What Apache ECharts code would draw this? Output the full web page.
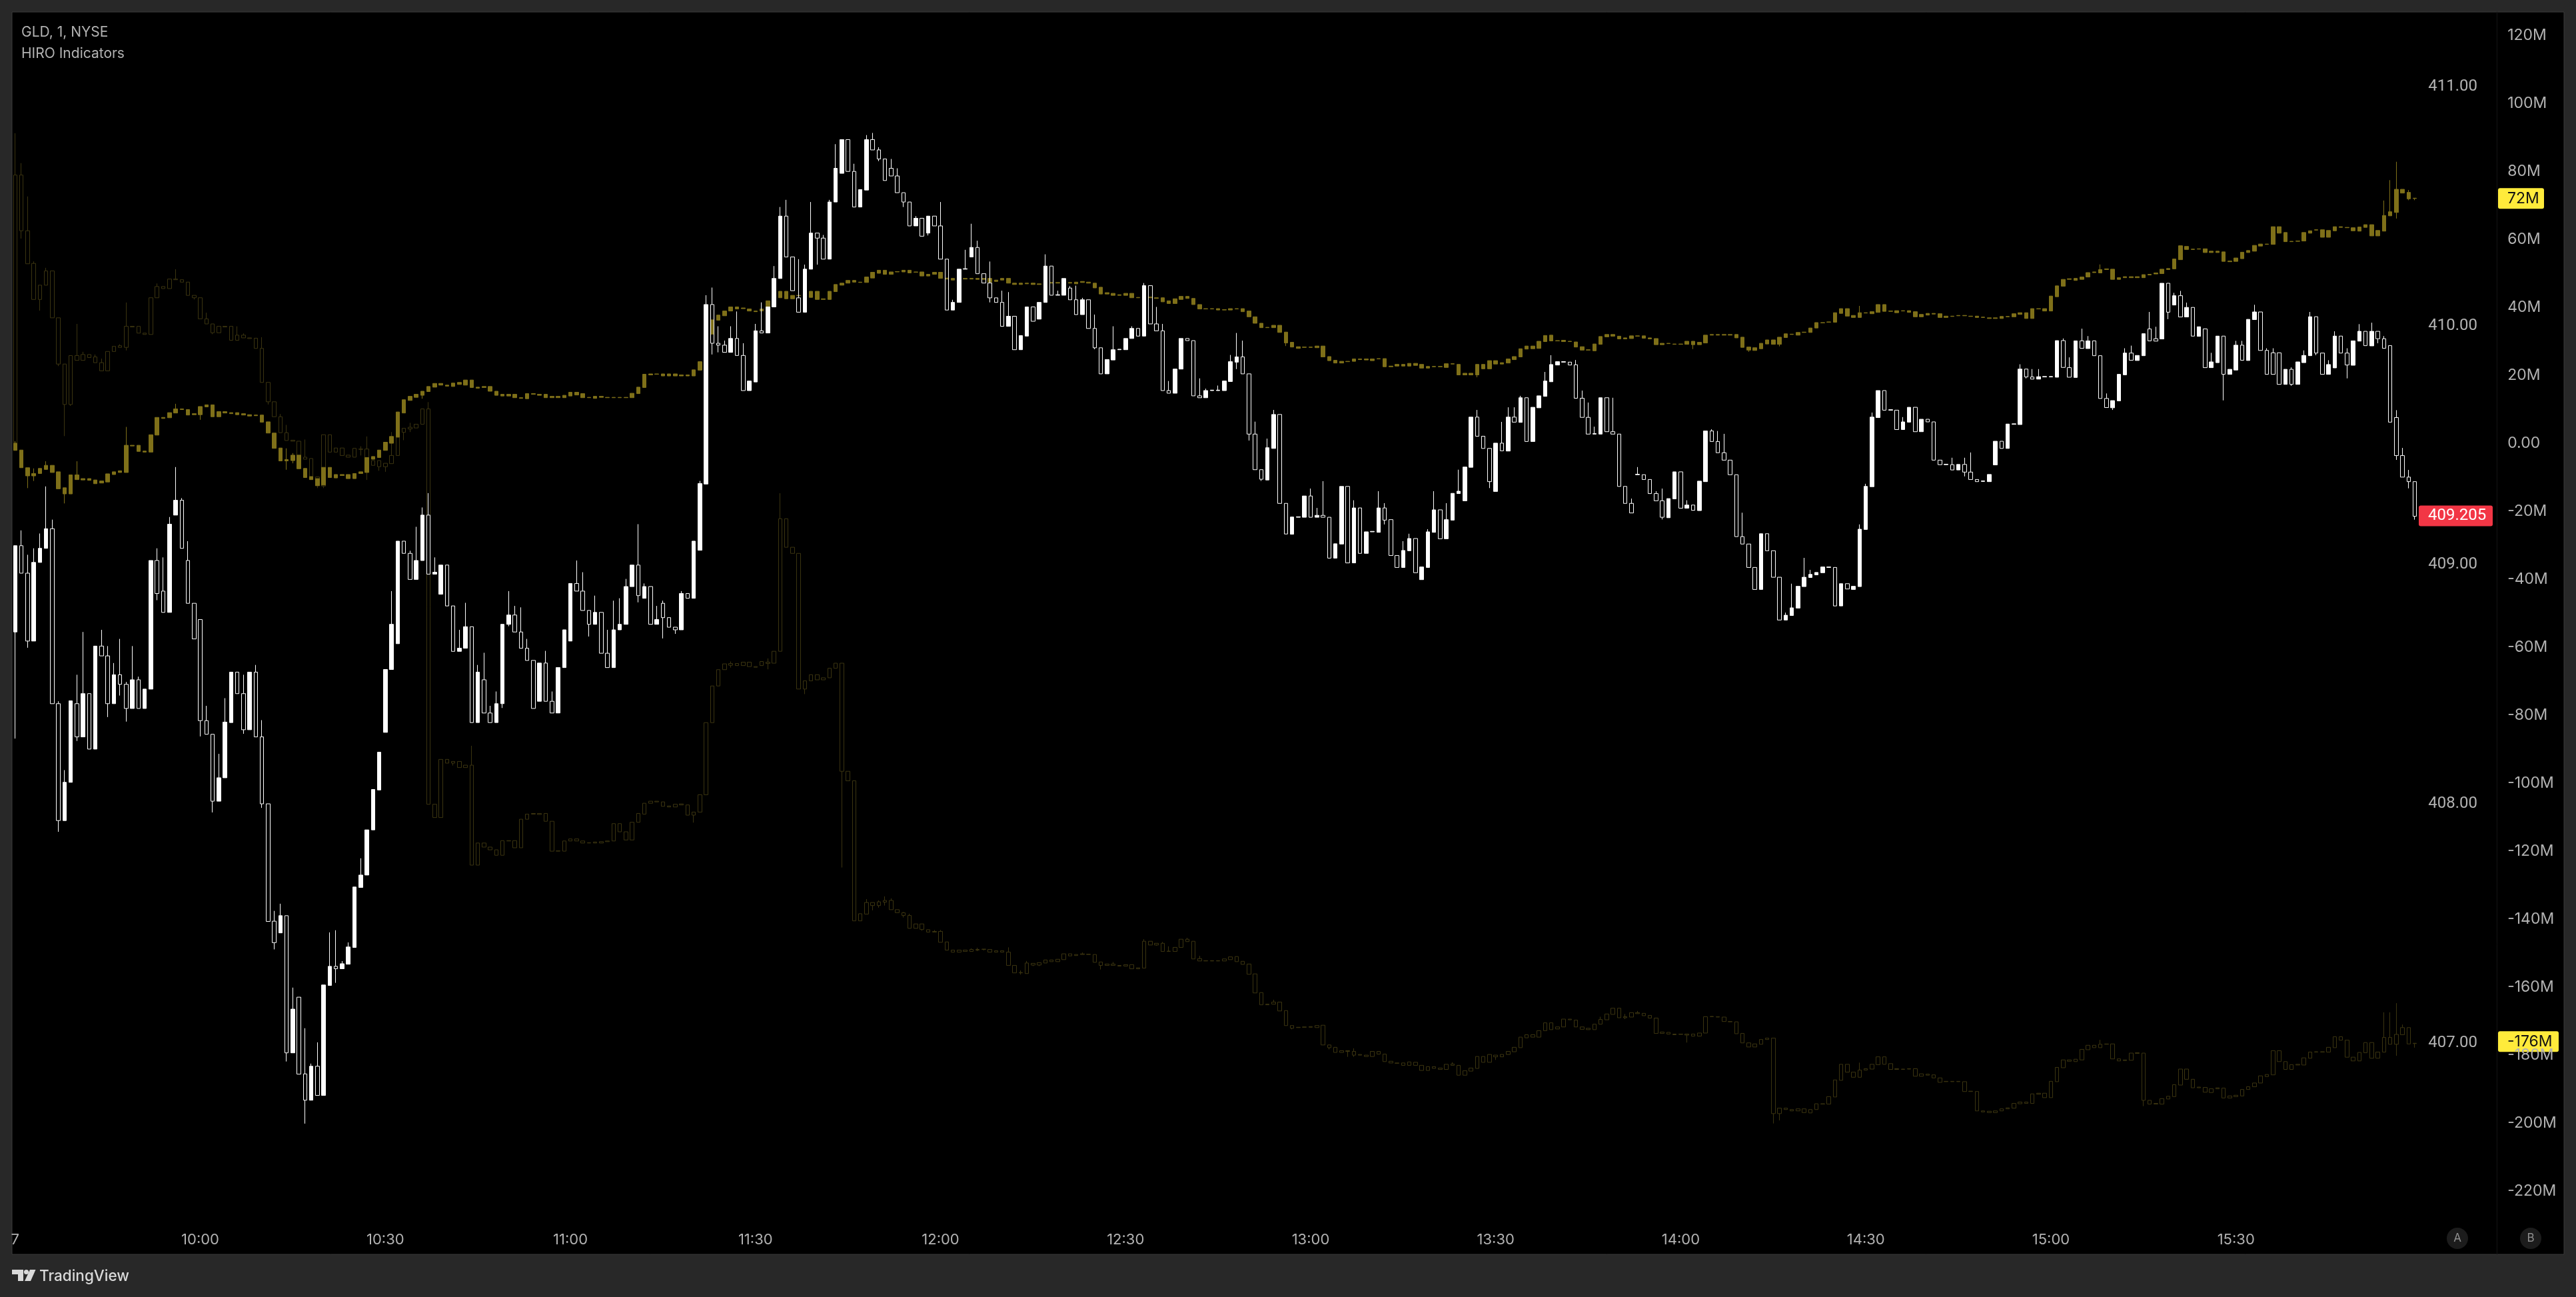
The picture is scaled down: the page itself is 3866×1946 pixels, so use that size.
<!DOCTYPE html>
<html>
<head>
<meta charset="utf-8">
<title>GLD HIRO</title>
<style>
  html, body { margin: 0; padding: 0; background: #282828; }
  #chart { width: 3866px; height: 1946px; }
</style>
<script src="https://cdn.jsdelivr.net/npm/echarts@6/dist/echarts.min.js"></script>
</head>
<body>
<div id="chart"></div>
<script>
// GLD one minute bars, 09:30 onward
const priceOpen = [
  408.719,409.080,408.965,408.681,409.010,409.069,409.151,408.419,407.930,408.090,
  408.419,408.280,408.461,408.229,408.660,408.619,408.419,408.540,408.500,408.399,
  408.519,408.399,408.480,409.018,408.890,408.801,409.208,409.270,409.018,408.839,
  408.771,408.348,408.291,408.011,408.109,408.340,408.551,408.461,408.310,408.551,
  408.280,408.000,407.509,407.460,407.532,406.958,407.191,406.870,406.760,406.902,
  406.780,407.240,407.320,407.310,407.329,407.399,407.650,407.702,407.891,408.058,
  408.299,408.562,408.670,409.099,409.048,408.939,409.018,409.208,408.961,408.877,
  408.999,408.828,408.638,408.651,408.741,408.340,408.519,408.380,408.340,408.419,
  408.751,408.790,408.719,408.651,408.600,408.429,408.589,408.429,408.380,408.570,
  408.681,408.922,408.890,408.809,408.751,408.801,408.630,408.570,408.728,408.751,
  408.909,408.999,408.860,408.909,408.751,408.839,408.779,408.739,408.728,408.880,
  408.860,409.061,409.338,410.089,409.927,409.919,409.889,409.947,409.876,409.729,
  409.765,409.979,409.970,410.079,410.198,410.459,410.288,410.117,410.057,410.237,
  410.388,410.367,410.279,410.518,410.638,410.779,410.646,410.497,410.568,410.779,
  410.736,410.698,410.659,410.627,410.557,410.518,410.418,410.450,410.388,410.459,
  410.418,410.279,410.066,410.098,410.237,410.288,410.328,410.218,410.179,410.117,
  410.098,409.998,410.040,409.900,409.957,410.079,410.028,410.098,410.250,410.128,
  410.128,410.158,410.109,410.047,410.109,409.989,409.908,409.799,409.857,409.900,
  409.900,409.947,409.989,409.957,410.168,410.008,409.979,409.729,409.718,409.819,
  409.947,409.938,409.707,409.699,409.729,409.729,409.729,409.767,409.848,409.870,
  409.799,409.547,409.398,409.355,409.487,409.629,409.257,409.128,409.199,409.199,
  409.288,409.199,409.207,409.199,409.028,409.087,409.328,409.008,409.238,409.048,
  409.138,409.136,409.238,409.189,409.039,408.989,409.059,409.110,408.938,408.989,
  409.136,409.230,409.109,409.187,409.298,409.268,409.408,409.618,409.538,409.487,
  409.307,409.509,409.476,409.618,409.596,409.699,409.516,409.657,409.705,409.766,
  409.836,409.848,409.848,409.837,409.697,409.617,409.547,409.547,409.699,409.557,
  409.547,409.328,409.257,409.377,409.377,409.357,409.298,409.268,409.197,409.276,
  409.389,409.237,409.250,409.227,409.348,409.560,409.516,409.469,409.438,409.377,
  409.118,409.087,408.989,408.897,409.130,409.059,408.948,408.769,408.788,408.819,
  408.909,408.947,408.958,408.967,408.989,408.989,408.828,408.921,408.897,408.909,
  409.148,409.327,409.616,409.729,409.647,409.647,409.566,409.597,409.659,409.557,
  409.609,409.598,409.438,409.419,409.419,409.397,409.420,409.388,409.357,409.349,
  409.348,409.418,409.517,409.487,409.588,409.587,409.819,409.786,409.777,409.786,
  409.786,409.785,409.938,409.825,409.784,409.937,409.905,409.937,409.875,409.696,
  409.657,409.686,409.795,409.886,409.855,409.875,409.987,409.946,409.945,410.178,
  410.087,410.126,410.037,410.077,409.956,409.987,409.825,409.846,409.957,409.797,
  409.815,409.919,409.855,410.026,410.058,409.897,409.887,409.887,409.755,409.818,
  409.755,409.846,409.875,410.038,409.886,409.797,409.824,409.957,409.886,409.835,
  409.936,409.977,409.916,409.977,409.946,409.917,409.616,409.457,409.367,409.348
]
const priceClose = [
  409.080,408.965,408.681,409.010,409.069,409.151,408.419,407.930,408.090,408.431,
  408.280,408.461,408.229,408.660,408.619,408.419,408.540,408.500,408.399,408.519,
  408.399,408.480,409.018,408.880,408.801,409.170,409.270,409.069,408.839,408.690,
  408.348,408.291,408.011,408.109,408.342,408.551,408.461,408.310,408.551,408.280,
  408.000,407.508,407.419,407.532,406.958,407.141,406.869,406.760,406.902,406.780,
  407.242,407.320,407.310,407.331,407.401,407.652,407.702,407.891,408.060,408.216,
  408.562,408.751,409.099,409.048,408.939,409.018,409.208,408.961,408.969,408.999,
  408.828,408.638,408.651,408.741,408.340,408.551,408.380,408.340,408.419,408.751,
  408.790,408.719,408.651,408.600,408.399,408.589,408.429,408.380,408.570,408.728,
  408.922,408.890,408.809,408.751,408.801,408.630,408.570,408.728,408.751,408.909,
  408.999,408.871,408.909,408.751,408.771,408.779,408.739,408.728,408.880,408.860,
  409.099,409.340,410.089,409.927,409.919,409.889,409.947,409.876,409.729,409.769,
  409.979,409.970,410.079,410.198,410.459,410.288,410.147,410.057,410.237,410.388,
  410.367,410.279,410.518,410.659,410.779,410.646,410.497,410.570,410.779,410.736,
  410.698,410.608,410.627,410.557,410.518,410.418,410.450,410.375,410.459,410.418,
  410.279,410.066,410.098,410.237,410.239,410.328,410.218,410.179,410.117,410.098,
  409.998,410.040,409.900,409.959,410.079,410.019,410.098,410.250,410.128,410.130,
  410.198,410.109,410.047,410.109,409.989,409.908,409.799,409.859,409.900,409.902,
  409.947,409.989,409.957,410.168,410.008,409.979,409.729,409.718,409.819,409.947,
  409.938,409.707,409.699,409.729,409.731,409.731,409.769,409.850,409.870,409.799,
  409.547,409.398,409.358,409.490,409.629,409.257,409.129,409.200,409.201,409.288,
  409.199,409.207,409.199,409.028,409.088,409.328,409.008,409.238,409.048,409.138,
  409.140,409.238,409.187,409.039,408.989,409.060,409.110,408.967,408.991,409.138,
  409.230,409.109,409.189,409.299,409.308,409.409,409.618,409.538,409.487,409.348,
  409.509,409.477,409.618,409.597,409.699,409.516,409.659,409.707,409.769,409.838,
  409.850,409.850,409.836,409.697,409.617,409.547,409.549,409.699,409.557,409.547,
  409.328,409.257,409.217,409.379,409.357,409.298,409.268,409.199,409.277,409.389,
  409.237,409.250,409.228,409.350,409.560,409.516,409.469,409.438,409.377,409.118,
  409.087,408.989,408.897,409.130,409.059,408.948,408.769,408.789,408.820,408.910,
  408.948,408.960,408.968,408.991,408.991,408.828,408.921,408.899,408.910,409.149,
  409.328,409.618,409.729,409.647,409.649,409.566,409.598,409.659,409.557,409.609,
  409.598,409.438,409.419,409.421,409.397,409.420,409.388,409.357,409.348,409.351,
  409.378,409.517,409.487,409.589,409.590,409.819,409.786,409.777,409.787,409.788,
  409.788,409.938,409.826,409.785,409.937,409.906,409.937,409.875,409.696,409.658,
  409.687,409.797,409.886,409.856,409.876,409.967,409.937,409.936,410.178,410.057,
  410.126,410.037,410.077,409.957,409.996,409.825,409.849,409.957,409.797,409.818,
  409.919,409.856,410.027,410.058,409.897,409.797,409.797,409.755,409.818,409.755,
  409.849,409.876,410.038,409.886,409.797,409.838,409.957,409.886,409.836,409.937,
  409.977,409.917,409.977,409.946,409.906,409.597,409.457,409.367,409.348,409.203
]
// wicks that stick out of the body, [bar, price]
const priceHighs = [
  [1,409.144],[2,409.042],[3,409.069],[4,409.131],[5,409.328],[6,409.189],[7,408.429],[8,408.141],[10,408.540],[11,408.719],
  [14,408.728],[15,408.660],[16,408.589],[17,408.690],[18,408.510],[19,408.660],[20,408.532],[23,409.069],[24,409.031],[25,409.200],
  [26,409.409],[27,409.279],[28,409.099],[31,408.410],[33,408.209],[34,408.442],[37,408.540],[39,408.581],[40,408.350],[42,407.552],
  [43,407.582],[45,407.231],[47,407.061],[48,406.913],[49,407.002],[51,407.462],[52,407.471],[53,407.342],[54,407.420],[56,407.772],
  [61,408.890],[64,409.059],[65,409.159],[66,409.240],[67,409.300],[68,409.031],[72,408.728],[73,408.841],[75,408.581],[76,408.632],
  [77,408.410],[78,408.470],[80,408.890],[81,408.828],[82,408.822],[83,408.690],[86,408.640],[87,408.470],[91,409.018],[92,408.969],
  [94,408.871],[96,408.728],[97,408.850],[98,408.860],[99,408.941],[101,409.170],[102,408.922],[104,408.828],[105,408.850],[108,408.890],
  [111,409.351],[112,410.128],[113,410.160],[114,409.998],[115,409.938],[116,409.998],[117,410.060],[118,409.927],[120,410.008],[121,410.098],
  [123,410.250],[124,410.497],[125,410.527],[127,410.279],[128,410.256],[129,410.518],[131,410.380],[132,410.527],[133,410.760],[136,410.678],
  [138,410.798],[139,410.807],[140,410.747],[142,410.698],[143,410.659],[146,410.459],[150,410.518],[152,410.109],[154,410.318],[155,410.427],
  [156,410.356],[158,410.269],[160,410.147],[161,410.141],[167,410.299],[169,410.147],[171,410.166],[172,410.168],[173,410.117],[175,410.047],
  [178,409.998],[181,409.998],[183,410.179],[185,410.079],[186,410.008],[187,409.769],[192,409.780],[193,409.737],[195,409.750],[197,409.878],
  [198,409.970],[199,409.938],[201,409.599],[203,409.528],[204,409.648],[210,409.319],[211,409.238],[212,409.350],[217,409.270],[221,409.308],
  [222,409.258],[225,409.099],[226,409.130],[229,409.149],[230,409.308],[232,409.258],[234,409.398],[237,409.648],[241,409.598],[242,409.659],
  [243,409.659],[244,409.707],[248,409.807],[249,409.877],[253,409.857],[254,409.729],[255,409.679],[256,409.578],[259,409.699],[262,409.277],
  [263,409.409],[266,409.308],[267,409.319],[271,409.270],[275,409.567],[276,409.560],[277,409.548],[280,409.218],[287,408.800],[288,408.921],
  [290,409.029],[291,408.979],[299,409.169],[300,409.339],[301,409.637],[306,409.618],[314,409.448],[316,409.448],[317,409.470],[325,409.839],
  [327,409.819],[328,409.819],[332,409.947],[333,409.868],[335,409.988],[336,409.957],[339,409.717],[342,409.906],[343,409.917],[346,410.058],
  [347,409.996],[350,410.138],[351,410.146],[352,410.097],[356,409.887],[360,409.937],[361,409.937],[363,410.088],[365,409.906],[366,409.906],
  [369,409.826],[371,409.897],[372,410.058],[375,409.856],[376,409.977],[378,409.906],[380,410.007],[382,410.013],[384,409.957],[386,409.647],
  [387,409.489],[388,409.397]
]
const priceLows = [
  [0,408.273],[2,408.653],[7,407.883],[10,408.263],[15,408.363],[17,408.453],[18,408.344],[23,408.852],[30,408.282],[32,407.964],
  [37,408.293],[40,407.983],[42,407.391],[44,406.922],[47,406.662],[52,407.251],[79,408.401],[80,408.743],[93,408.700],[101,408.843],
  [105,408.692],[107,408.711],[113,409.880],[114,409.889],[130,410.256],[140,410.689],[144,410.497],[148,410.378],[158,410.098],[175,409.902],
  [198,409.819],[200,409.520],[202,409.351],[222,409.169],[239,409.321],[267,409.190],[316,409.370],[326,409.780],[340,409.648],[349,410.028],
  [358,409.688],[369,409.749],[373,409.877],[378,409.780],[383,409.927],[386,409.439],[388,409.320],[389,409.189]
]

// HIRO upper trace (millions), body top and bottom
const hiroUpperTop = [
  0.0,-2.0,-7.2,-8.9,-7.4,-6.5,-6.5,-8.4,-13.1,-9.3,
  -9.3,-10.4,-10.4,-10.8,-11.1,-9.0,-8.4,-8.1,-0.6,-0.6,
  -0.6,-2.3,2.5,7.6,7.6,9.0,10.1,10.1,9.9,8.7,
  10.8,11.3,11.3,9.3,9.3,9.0,9.0,8.7,8.4,8.3,
  8.3,6.3,3.0,-1.4,-4.8,-3.5,-3.5,-7.4,-9.8,-10.4,
  -7.1,-7.1,-9.2,-9.2,-9.2,-8.9,-8.4,-4.2,-3.9,-2.0,
  0.3,2.0,9.2,12.8,13.8,14.4,15.3,16.7,17.6,17.6,
  17.1,17.7,17.9,18.6,18.6,16.5,16.7,16.7,15.3,14.4,
  14.4,14.4,13.4,14.6,14.6,14.4,14.4,13.8,13.8,14.1,
  15.0,15.0,14.6,13.5,13.8,13.8,13.5,13.5,13.5,13.5,
  14.7,16.5,20.3,20.4,20.4,20.4,20.4,20.4,20.1,20.1,
  21.6,24.0,32.1,36.3,37.7,38.9,40.1,40.1,39.8,39.5,
  38.9,39.5,41.9,44.1,44.7,44.7,43.5,43.5,43.5,44.7,
  44.7,42.5,44.7,46.7,47.1,47.9,47.9,47.4,48.9,50.3,
  50.9,50.9,50.4,50.5,50.9,50.9,50.4,50.4,49.7,50.3,
  50.3,48.6,48.5,48.5,48.5,48.5,48.5,48.5,48.5,48.0,
  48.5,48.5,47.1,47.1,47.1,47.1,46.9,47.3,47.3,47.3,
  47.3,47.3,47.4,47.6,47.4,47.1,45.9,44.3,44.1,43.7,
  44.1,44.1,42.9,42.9,43.0,42.8,42.8,41.9,42.5,43.2,
  43.2,42.6,40.8,39.6,39.6,39.6,39.3,39.6,39.6,39.6,
  38.9,37.2,35.3,34.1,34.7,34.7,32.7,29.7,28.4,28.3,
  28.3,28.6,28.6,25.5,24.4,24.1,24.1,24.8,24.8,24.8,
  24.8,24.9,24.9,22.7,23.2,23.2,23.5,23.5,23.2,22.6,
  22.6,22.6,23.4,23.4,23.2,20.6,20.6,23.2,23.2,24.3,
  24.3,23.7,24.8,25.5,27.8,28.6,28.6,30.0,31.7,31.8,
  30.2,30.3,30.0,29.8,28.4,27.5,29.2,31.4,32.0,32.0,
  31.5,31.0,31.6,31.6,31.6,31.0,30.8,29.4,29.4,29.2,
  29.2,30.0,30.0,29.7,31.8,32.0,32.0,32.0,32.0,32.0,
  31.2,28.3,28.1,29.4,30.4,30.4,31.2,32.2,32.1,32.6,
  32.7,33.9,35.5,35.5,35.7,38.4,39.6,39.6,37.6,38.4,
  38.4,38.7,40.8,40.8,38.9,39.0,39.0,39.0,38.7,37.9,
  38.2,38.2,38.1,37.4,37.4,37.6,37.6,37.4,37.4,37.1,
  36.9,36.9,37.3,37.3,38.1,38.4,38.4,39.6,39.6,39.6,
  43.3,46.3,48.2,48.4,48.5,48.9,50.2,50.4,51.1,51.3,
  51.2,48.7,49.0,49.0,49.0,49.6,49.7,50.1,51.2,51.4,
  54.2,58.1,57.9,57.1,57.2,57.2,56.5,56.5,56.3,53.6,
  54.5,56.2,56.7,58.2,58.6,58.6,63.7,63.7,62.0,59.4,
  59.5,62.0,62.5,62.8,62.8,62.6,63.7,63.7,63.5,63.4,
  63.6,64.3,64.3,62.6,67.0,68.1,74.7,74.7,73.8,72.1
]
const hiroUpperBottom = [
  -2.1,-7.2,-9.6,-9.6,-8.9,-7.7,-8.6,-13.4,-14.9,-14.9,
  -10.7,-10.8,-10.9,-11.9,-11.7,-11.4,-9.2,-8.6,-8.6,-0.8,
  -2.4,-2.6,-2.6,2.4,7.3,7.5,8.9,9.9,8.3,8.4,
  8.4,10.7,7.8,7.8,8.9,8.7,8.4,8.3,8.0,8.1,
  6.2,3.0,-1.5,-5.2,-5.2,-5.1,-7.5,-10.1,-10.7,-12.5,
  -12.3,-10.1,-10.2,-9.5,-10.4,-10.4,-8.9,-8.6,-4.7,-4.2,
  -2.1,0.0,1.8,8.9,12.6,13.5,14.1,15.2,16.5,17.1,
  16.8,16.7,17.3,17.1,16.4,16.2,16.4,15.3,14.1,13.9,
  13.9,13.4,13.2,13.1,14.4,14.1,13.4,13.4,13.4,13.4,
  13.9,14.2,13.4,13.4,13.2,13.5,13.4,13.4,13.4,13.4,
  13.4,14.6,16.4,20.1,20.3,19.8,19.8,19.8,19.8,19.8,
  19.8,21.5,24.0,32.1,36.2,37.5,38.9,39.5,39.6,38.9,
  38.7,38.9,39.3,41.9,42.8,42.5,42.5,43.4,43.4,42.9,
  42.3,42.3,42.3,44.6,46.5,47.1,47.4,47.3,47.3,48.6,
  50.0,49.7,49.7,50.4,50.4,50.1,50.3,49.2,49.2,49.7,
  48.5,48.3,48.0,48.3,48.3,48.3,48.2,48.2,47.4,47.6,
  48.0,47.1,46.7,46.7,46.9,46.7,46.7,46.9,47.1,47.1,
  47.1,47.1,46.9,47.3,47.1,45.7,43.9,43.9,43.5,43.5,
  43.5,42.8,42.8,42.8,42.8,42.6,41.6,41.1,41.1,42.3,
  42.6,40.8,39.5,39.5,39.5,39.2,39.2,39.2,39.5,38.7,
  37.2,35.3,34.0,34.0,34.0,32.6,29.5,28.3,27.9,28.2,
  28.2,28.1,25.4,24.3,23.6,23.6,24.0,24.1,24.6,24.5,
  24.3,24.8,22.5,22.5,22.7,22.7,22.7,22.9,22.1,22.1,
  22.5,22.5,22.3,23.3,20.1,20.1,20.1,20.1,21.9,21.9,
  23.3,23.3,23.6,24.6,25.4,27.7,27.8,27.9,29.9,30.1,
  30.1,29.9,29.9,28.3,27.4,27.4,27.2,29.1,31.3,31.5,
  30.7,30.7,30.8,31.5,30.9,30.7,29.0,29.0,29.3,29.1,
  29.1,29.1,29.0,29.0,29.5,31.8,31.8,31.8,31.8,31.0,
  28.2,27.4,27.3,27.8,29.2,29.1,29.1,31.1,32.0,31.8,
  32.6,32.6,33.9,35.4,35.6,35.6,38.2,37.4,37.0,37.0,
  38.3,38.1,38.5,38.8,38.8,38.4,38.9,38.5,37.2,37.2,
  37.7,38.0,37.0,37.0,37.3,37.5,37.5,37.3,37.0,37.0,
  36.7,36.7,36.7,37.2,37.2,37.9,36.7,36.7,39.5,38.9,
  38.9,43.1,46.2,48.2,47.9,48.2,48.9,50.2,50.1,51.1,
  48.2,48.2,48.7,48.7,48.7,48.7,49.5,49.8,49.9,51.1,
  51.3,54.0,57.0,57.0,57.1,56.1,56.1,56.1,53.5,53.4,
  53.5,54.3,56.1,56.5,58.0,58.5,58.5,61.8,59.3,59.3,
  59.4,59.5,61.8,62.7,60.6,60.6,62.5,63.5,63.4,62.5,
  62.4,63.5,61.0,61.0,62.4,66.9,67.9,73.6,71.9,72.0
]
const hiroUpperHighs = [
  [0,0.6],[3,-7.4],[5,-5.3],[10,-5.3],[18,4.8],[26,11.6],[44,-1.5],[45,-2.9],[299,40.4],[338,52.6],[384,71.4],[385,77.4],[386,82.8],[388,74.5]
]
const hiroUpperLows = [
  [2,-13.2],[3,-11.1],[8,-17.7],[30,6.9],[44,-7.8],[45,-5.9],[66,13.1],[206,28.6],[237,19.4],[272,27.7],[281,26.9],[286,28.5],[386,66.1],[388,71.5],[389,71.5]
]

// HIRO lower trace (millions), body top and bottom
const hiroLowerTop = [
  78.9,78.9,62.5,52.9,46.5,50.7,50.7,36.9,23.3,25.8,
  25.8,26.1,26.1,25.4,23.7,27.0,28.5,28.7,34.4,34.4,
  34.4,32.4,42.8,46.1,46.1,48.3,48.3,48.1,47.4,43.5,
  42.8,36.6,35.1,34.4,34.4,34.4,31.8,31.8,31.0,30.9,
  27.9,17.9,12.2,7.8,3.1,0.9,0.6,-4.1,-4.5,-9.9,
  2.5,2.5,-1.4,-1.4,-3.5,-1.5,-1.7,-1.7,-5.1,-5.1,
  -5.9,-3.6,1.8,4.4,4.7,5.6,10.1,10.1,-106.2,-93.0,
  -93.0,-93.6,-93.6,-94.7,-94.7,-117.6,-117.6,-118.8,-119.6,-116.9,
  -116.9,-116.9,-110.6,-109.1,-108.9,-108.9,-108.9,-111.2,-119.9,-117.0,
  -116.4,-116.4,-117.0,-117.5,-117.3,-117.2,-117.0,-111.9,-111.9,-114.3,
  -111.5,-108.9,-105.9,-105.3,-105.3,-105.5,-106.7,-106.2,-106.1,-106.4,
  -108.5,-103.4,-82.2,-71.4,-66.6,-64.9,-64.8,-64.8,-64.4,-64.4,
  -65.7,-64.2,-64.4,-61.2,-22.2,-22.2,-30.6,-32.4,-69.9,-68.1,
  -68.1,-69.0,-66.2,-64.7,-64.7,-96.5,-99.3,-138.4,-135.1,-135.1,
  -134.9,-134.5,-134.5,-137.2,-138.1,-138.9,-141.4,-141.4,-143.1,-143.6,
  -143.6,-146.7,-149.1,-149.1,-149.1,-148.9,-148.9,-148.8,-148.9,-149.3,
  -149.3,-149.7,-153.6,-155.7,-152.9,-153.0,-152.8,-152.0,-152.0,-151.8,
  -150.2,-150.2,-150.4,-150.2,-150.3,-150.4,-152.6,-153.2,-153.2,-153.6,
  -153.4,-153.4,-154.3,-146.5,-146.5,-147.1,-147.1,-149.4,-148.3,-145.9,
  -145.9,-146.5,-151.6,-152.2,-152.2,-152.2,-151.7,-151.1,-151.0,-152.4,
  -153.2,-156.1,-161.6,-165.0,-164.4,-164.4,-166.9,-171.3,-171.8,-171.7,
  -171.6,-171.3,-171.2,-177.0,-177.7,-178.7,-178.7,-178.9,-179.8,-180.0,
  -178.9,-178.9,-179.7,-181.8,-182.3,-182.3,-182.0,-182.1,-183.0,-183.4,
  -183.4,-183.8,-182.7,-182.6,-183.0,-184.6,-183.8,-180.4,-180.4,-179.8,
  -180.0,-179.8,-178.9,-177.7,-174.7,-174.0,-174.0,-172.8,-170.5,-170.5,
  -171.7,-169.4,-169.4,-169.7,-171.7,-172.1,-170.9,-169.5,-167.9,-166.2,
  -166.2,-168.7,-167.5,-167.5,-167.7,-168.3,-169.1,-173.2,-173.3,-173.8,
  -173.8,-173.8,-173.8,-173.5,-168.7,-168.6,-168.7,-168.8,-170.1,-170.2,
  -173.6,-176.4,-176.7,-175.4,-175.0,-175.0,-195.6,-195.6,-196.0,-195.8,
  -195.8,-196.0,-194.3,-194.3,-192.2,-187.3,-182.7,-182.7,-185.0,-184.4,
  -184.0,-182.7,-180.5,-180.5,-182.5,-184.0,-184.1,-184.0,-184.0,-185.5,
  -185.6,-185.8,-186.7,-187.7,-187.7,-187.7,-187.8,-190.6,-190.7,-196.4,
  -196.5,-196.4,-195.8,-195.5,-194.2,-193.8,-193.8,-191.4,-191.2,-191.2,
  -187.7,-183.6,-181.4,-181.4,-181.2,-178.3,-177.1,-177.1,-176.8,-176.7,
  -176.7,-181.1,-181.4,-179.4,-179.3,-179.4,-193.3,-194.2,-192.8,-192.1,
  -188.7,-184.1,-184.1,-187.1,-189.4,-189.5,-189.9,-189.6,-189.7,-192.0,
  -191.8,-190.1,-189.3,-188.2,-186.1,-185.7,-178.7,-178.7,-181.9,-182.8,
  -182.7,-180.8,-179.1,-179.0,-179.0,-177.7,-174.6,-174.6,-175.6,-180.6,
  -179.2,-176.3,-176.3,-179.1,-174.8,-174.8,-173.9,-171.9,-171.9,-176.5
]
const hiroLowerBottom = [
  0.0,62.5,52.8,42.3,42.3,46.5,36.9,23.3,11.4,11.4,
  24.4,24.4,25.2,23.7,21.3,21.3,27.0,28.2,28.2,34.2,
  32.4,32.0,32.0,42.8,45.5,45.5,48.1,47.4,43.5,42.8,
  36.6,35.1,32.5,32.5,34.2,30.3,30.3,31.0,30.8,27.9,
  17.9,12.2,7.8,3.1,0.8,0.6,-3.6,-4.7,-9.9,-12.3,
  -12.6,-2.6,-2.6,-3.6,-4.1,-4.1,-1.8,-8.4,-6.5,-6.9,
  -6.9,-6.0,-3.6,3.2,4.2,4.5,5.6,-106.2,-110.1,-110.1,
  -94.1,-94.1,-95.4,-95.4,-124.1,-124.1,-118.8,-119.6,-121.2,-121.2,
  -117.0,-119.0,-119.0,-110.6,-109.1,-109.2,-111.2,-120.0,-120.0,-120.0,
  -117.0,-117.0,-117.6,-117.6,-117.6,-117.6,-117.2,-117.0,-114.3,-116.7,
  -116.7,-111.5,-109.1,-105.9,-105.5,-106.8,-107.0,-107.0,-106.4,-109.4,
  -109.4,-108.5,-103.4,-82.2,-71.4,-66.6,-65.3,-65.4,-65.4,-65.7,
  -65.9,-65.4,-64.8,-64.7,-61.2,-30.6,-32.4,-72.3,-72.3,-69.9,
  -69.6,-69.6,-69.0,-66.2,-96.5,-99.3,-140.5,-140.5,-138.5,-136.0,
  -136.0,-135.0,-137.2,-138.1,-138.9,-142.7,-142.7,-143.0,-143.8,-143.8,
  -146.8,-149.1,-149.7,-149.7,-149.5,-149.5,-149.1,-148.9,-149.7,-149.7,
  -149.7,-153.6,-155.8,-155.8,-156.0,-153.5,-153.5,-152.9,-152.5,-152.5,
  -151.9,-150.8,-150.7,-150.4,-150.4,-152.7,-153.6,-153.6,-153.6,-153.8,
  -153.8,-154.6,-154.6,-154.4,-147.6,-147.6,-149.5,-149.5,-149.5,-148.3,
  -146.6,-151.7,-152.3,-152.3,-152.3,-152.3,-152.3,-151.9,-152.5,-153.3,
  -156.2,-161.7,-165.2,-165.2,-165.0,-167.0,-171.3,-172.1,-171.9,-171.8,
  -171.8,-171.9,-177.0,-177.8,-179.2,-179.2,-178.9,-180.0,-180.0,-180.4,
  -180.4,-179.7,-181.9,-182.3,-182.4,-183.0,-183.0,-183.0,-184.5,-184.5,
  -183.9,-184.2,-184.2,-183.0,-185.9,-185.9,-184.7,-183.9,-182.1,-182.1,
  -180.5,-180.5,-179.8,-179.0,-177.8,-174.9,-174.7,-174.7,-172.8,-172.5,
  -172.3,-171.7,-169.6,-171.7,-172.4,-172.5,-172.5,-170.9,-169.6,-168.0,
  -169.0,-169.0,-168.8,-167.8,-168.4,-169.1,-173.6,-173.6,-173.8,-174.0,
  -173.9,-174.1,-174.4,-174.4,-173.5,-168.7,-168.8,-170.1,-170.2,-173.7,
  -176.4,-177.6,-177.6,-176.8,-175.4,-197.2,-197.2,-196.0,-196.4,-196.4,
  -196.9,-197.0,-196.0,-194.4,-194.4,-192.3,-187.4,-185.0,-186.5,-186.5,
  -184.4,-184.1,-182.8,-182.7,-184.2,-184.2,-184.2,-184.1,-186.2,-186.2,
  -185.9,-186.7,-188.0,-187.8,-187.8,-187.8,-190.7,-190.7,-196.4,-196.7,
  -196.9,-196.9,-196.4,-195.8,-195.6,-194.3,-194.2,-194.2,-191.5,-192.5,
  -192.5,-187.8,-183.7,-181.8,-181.9,-181.4,-178.4,-177.8,-177.8,-176.8,
  -181.1,-181.7,-181.6,-181.5,-179.5,-193.3,-194.4,-194.4,-194.4,-192.9,
  -192.2,-188.8,-187.1,-189.6,-189.6,-190.9,-191.0,-189.9,-192.6,-192.6,
  -192.2,-192.0,-190.1,-189.3,-188.2,-186.3,-185.8,-181.9,-184.2,-184.2,
  -182.9,-182.9,-180.9,-179.1,-179.1,-179.1,-177.8,-175.6,-180.6,-181.7,
  -181.7,-179.3,-180.9,-180.9,-179.1,-176.8,-176.8,-174.0,-176.7,-176.6
]
const hiroLowerHighs = [
  [0,91.2],[1,82.4],[2,72.6],[3,53.5],[5,51.6],[10,35.1],[11,26.9],[13,26.1],[14,24.9],[17,29.1],
  [18,41.4],[23,47.0],[26,51.2],[31,38.4],[36,34.4],[37,32.3],[40,31.2],[43,8.6],[44,5.4],[47,1.1],
  [56,-0.9],[57,2.0],[61,3.3],[64,6.0],[67,12.1],[74,-89.0],[116,-64.2],[122,-63.3],[124,-14.7],[138,-134.1],
  [140,-134.5],[141,-133.3],[142,-133.9],[144,-137.9],[145,-138.4],[149,-143.2],[150,-143.2],[155,-148.6],[156,-148.4],[161,-148.3],
  [163,-155.1],[164,-152.3],[173,-149.8],[178,-152.6],[183,-145.9],[186,-146.7],[187,-148.0],[190,-145.5],[192,-150.8],[204,-163.7],
  [217,-178.0],[233,-182.1],[257,-168.7],[261,-167.9],[263,-167.0],[299,-182.2],[338,-175.5],[384,-167.4],[385,-167.4],[386,-164.7],
  [387,-171.0]
]
const hiroLowerLows = [
  [1,60.2],[4,39.0],[7,22.7],[8,2.1],[9,11.0],[18,27.3],[29,42.3],[32,32.1],[41,11.4],[49,-13.2],
  [50,-13.2],[56,-3.6],[57,-10.8],[59,-8.1],[60,-8.4],[63,0.9],[64,3.3],[71,-94.8],[110,-111.6],[116,-66.0],
  [122,-66.5],[128,-73.8],[134,-124.8],[139,-137.4],[140,-136.6],[141,-136.0],[144,-139.5],[147,-143.4],[156,-149.4],[157,-149.2],
  [163,-156.3],[165,-153.8],[166,-153.8],[176,-154.8],[185,-147.8],[207,-172.4],[213,-178.3],[216,-180.5],[217,-180.5],[240,-181.4],
  [261,-169.4],[271,-176.3],[285,-200.1],[286,-199.2],[345,-195.0],[386,-180.2],[389,-177.8]
]

// axis ticks
const priceTicks = [407, 408, 409, 410, 411]
const flowTicks = [120, 100, 80, 60, 40, 20, 0, -20, -40, -60, -80, -100, -120, -140, -160, -180, -200, -220]
const lastPrice = 409.205
const lastUpper = 72
const lastLower = -176

const slotCount = 403 // the time scale runs on past the last bar, under the price labels
const minutes = []
for (let i = 0; i < slotCount; i++) {
  const m = 9 * 60 + 30 + i
  minutes.push(Math.floor(m / 60) + ':' + String(m % 60).padStart(2, '0'))
}

function makeBars(first, second, highs, lows) {
  const bars = first.map((v, i) => [v, second[i], Math.min(v, second[i]), Math.max(v, second[i])])
  highs.forEach(h => { bars[h[0]][3] = h[1] })
  lows.forEach(l => { bars[l[0]][2] = l[1] })
  return bars
}

const fontName = 'Inter, sans-serif'
const priceFont = 'Roboto, sans-serif'
const labelColor = '#b2b2b2'
const gold = '#7f7019'
const darkGold = '#3b3410'

const chart = echarts.init(document.getElementById('chart'), null, { renderer: 'canvas' })

chart.setOption({
  animation: false,
  backgroundColor: '#282828',
  title: {
    text: 'GLD, 1, NYSE\nHIRO Indicators',
    left: 32,
    top: 33,
    padding: 0,
    textStyle: { color: labelColor, fontFamily: fontName, fontSize: 21, fontWeight: 'normal', lineHeight: 32 }
  },
  grid: { left: 18.17, top: 18, width: 3731, height: 1864 },
  xAxis: {
    type: 'category',
    data: minutes,
    boundaryGap: true,
    axisLine: { show: false },
    axisTick: { show: false },
    splitLine: { show: false },
    axisLabel: {
      inside: true,
      margin: 11,
      color: labelColor,
      fontFamily: fontName,
      fontSize: 22,
      hideOverlap: false,
      interval: i => i % 30 === 0 && i <= 360,
      formatter: (v, i) => (i === 0 ? '7' : v)
    }
  },
  yAxis: [
    {
      type: 'value',
      position: 'right',
      min: 406.115,
      max: 411.313,
      axisLine: { show: false },
      axisTick: { show: false },
      splitLine: { show: false },
      axisLabel: {
        inside: true,
        margin: 105,
        align: 'left',
        color: labelColor,
        fontFamily: priceFont,
        fontSize: 24,
        customValues: priceTicks,
        formatter: v => v.toFixed(2)
      }
    },
    {
      type: 'value',
      position: 'right',
      offset: -2,
      min: -238.6,
      max: 126.86,
      axisLine: { show: true, lineStyle: { color: '#141414', width: 1 } },
      axisTick: { show: false },
      splitLine: { show: false },
      axisLabel: {
        margin: 16,
        align: 'left',
        color: labelColor,
        fontFamily: fontName,
        fontSize: 23,
        customValues: flowTicks,
        formatter: v => (v === 0 ? '0.00' : v + 'M')
      }
    }
  ],
  series: [
    {
      name: 'HIRO lower',
      type: 'candlestick',
      yAxisIndex: 1,
      barWidth: 6,
      data: makeBars(hiroLowerBottom, hiroLowerTop, hiroLowerHighs, hiroLowerLows),
      itemStyle: { color: 'rgba(0,0,0,0)', color0: 'rgba(0,0,0,0)', borderColor: darkGold, borderColor0: darkGold, borderColorDoji: darkGold, borderWidth: 1 }
    },
    {
      name: 'HIRO upper',
      type: 'candlestick',
      yAxisIndex: 1,
      barWidth: 6,
      data: makeBars(hiroUpperBottom, hiroUpperTop, hiroUpperHighs, hiroUpperLows),
      itemStyle: { color: gold, color0: gold, borderColor: gold, borderColor0: gold, borderColorDoji: gold, borderWidth: 1 }
    },
    {
      name: 'GLD',
      type: 'candlestick',
      yAxisIndex: 0,
      barWidth: 6,
      data: makeBars(priceOpen, priceClose, priceHighs, priceLows),
      itemStyle: { color: '#ffffff', color0: 'rgba(0,0,0,0)', borderColor: '#ffffff', borderColor0: '#ffffff', borderColorDoji: '#ffffff', borderWidth: 1 }
    }
  ]
})

// frame, badges and last value tags go on after the scales exist
function lastTag(y, left, width, fill, textFill, text, font) {
  return {
    type: 'group',
    z: 100,
    children: [
      { type: 'rect', shape: { x: left, y: y - 15.5, width: width, height: 31, r: 3 }, style: { fill: fill } },
      {
        type: 'text',
        x: left + 14,
        y: y,
        style: { text: text, fill: textFill, font: font, textAlign: 'left', textVerticalAlign: 'middle' }
      }
    ]
  }
}

const priceY = chart.convertToPixel({ yAxisIndex: 0 }, lastPrice)
const upperY = chart.convertToPixel({ yAxisIndex: 1 }, lastUpper)
const lowerY = chart.convertToPixel({ yAxisIndex: 1 }, lastLower)

chart.setOption({
  graphic: [
    {
      type: 'rect',
      z: -10,
      silent: true,
      shape: { x: 18, y: 18, width: 3830, height: 1864 },
      style: { fill: '#000000', stroke: '#3a3a3a', lineWidth: 1 }
    },
    lastTag(priceY, 3630, 111, '#f23645', '#ffffff', '409.205', '24px ' + priceFont),
    lastTag(upperY, 3749, 69, '#ffeb3b', '#131313', '72M', '23px ' + fontName),
    lastTag(lowerY, 3749, 91, '#ffeb3b', '#131313', '-176M', '23px ' + fontName),
    { type: 'circle', shape: { cx: 3688, cy: 1858, r: 16 }, style: { fill: '#1c1c1c' } },
    { type: 'circle', shape: { cx: 3798, cy: 1858, r: 16 }, style: { fill: '#1c1c1c' } },
    { type: 'text', x: 3688, y: 1858, style: { text: 'A', fill: '#8f8f8f', font: '17px ' + fontName, textAlign: 'center', textVerticalAlign: 'middle' } },
    { type: 'text', x: 3798, y: 1858, style: { text: 'B', fill: '#8f8f8f', font: '17px ' + fontName, textAlign: 'center', textVerticalAlign: 'middle' } },
    // TradingView mark
    { type: 'polygon', shape: { points: [[18, 1905], [35, 1905], [35, 1922], [27, 1922], [27, 1912], [18, 1912]] }, style: { fill: '#d9d9d9' } },
    { type: 'circle', shape: { cx: 39.5, cy: 1908.5, r: 3.6 }, style: { fill: '#d9d9d9' } },
    { type: 'polygon', shape: { points: [[45, 1905], [53.5, 1905], [46, 1922], [37, 1922]] }, style: { fill: '#d9d9d9' } },
    { type: 'text', x: 59, y: 1915, style: { text: 'TradingView', fill: '#d9d9d9', font: '500 22.5px ' + fontName, textAlign: 'left', textVerticalAlign: 'middle' } }
  ]
})
</script>
</body>
</html>
